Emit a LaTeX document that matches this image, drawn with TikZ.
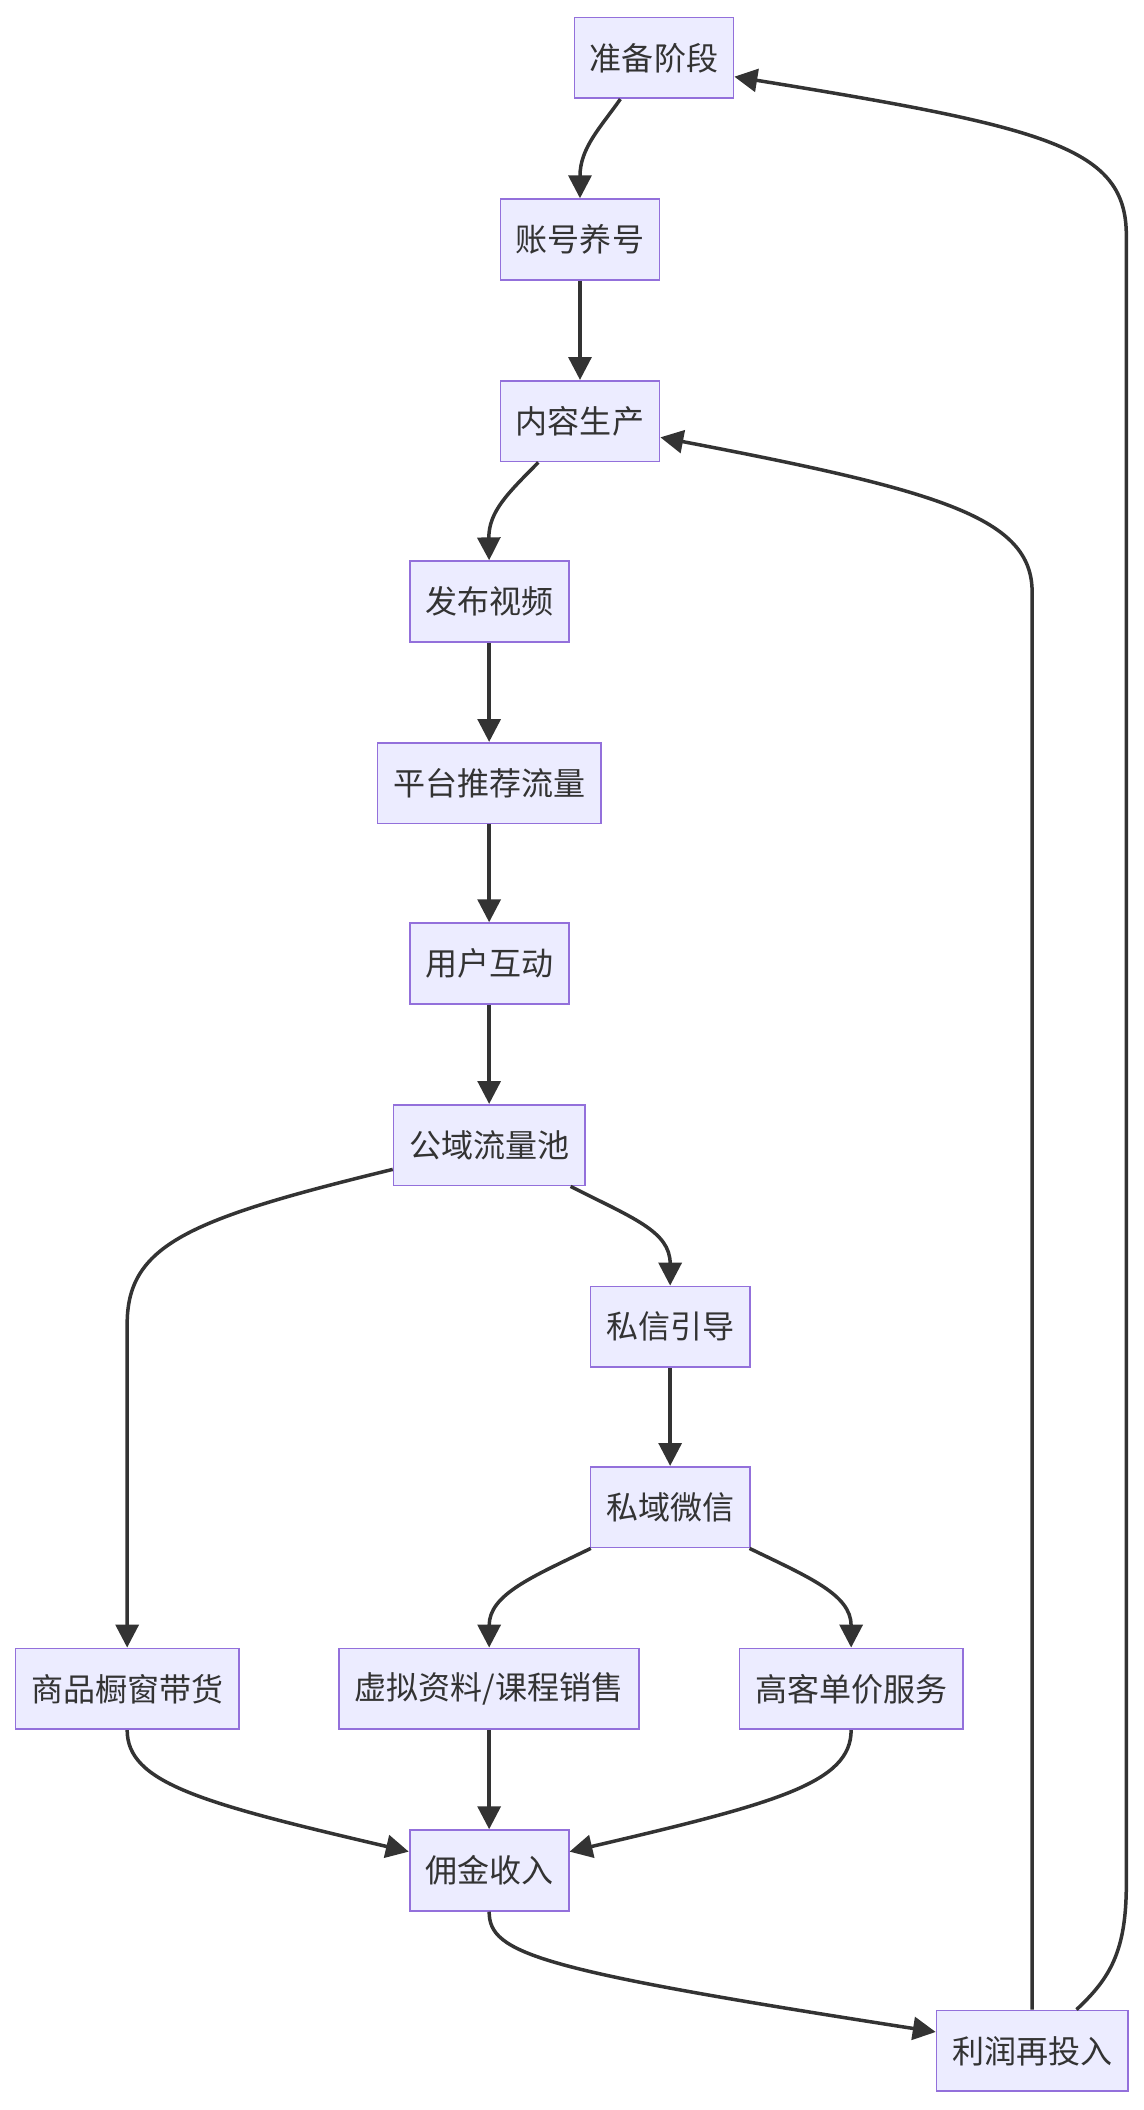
\documentclass[tikz,border=0pt]{standalone}
\usepackage{fontspec}
\setmainfont{Noto Sans CJK SC}
\usepackage{tikz}
\usetikzlibrary{arrows.meta,positioning,calc}
\usepackage{xcolor}
\definecolor{boxfill}{HTML}{ECECFF}
\definecolor{boxline}{HTML}{9370DB}
\definecolor{edgegray}{HTML}{333333}

\begin{document}
\begin{tikzpicture}[
    x=1pt, y=-1pt,
    step box/.style={draw=boxline,fill=boxfill,line width=1.3pt,minimum height=60pt,
        inner xsep=11.5pt,text=edgegray,font=\fontsize{23.8pt}{28pt}\selectfont},
    flow/.style={line width=2.6pt,draw=edgegray},
    >={Triangle[length=17pt,width=17pt]}
]
\useasboundingbox (0,0) rectangle (850,1568);

\node[step box] (prep) at (486,43) {准备阶段};
\node[step box] (acct) at (431,178) {账号养号};
\node[step box] (content) at (431,313) {内容生产};
\node[step box] (publish) at (363.5,447) {发布视频};
\node[step box] (recommend) at (363.5,582) {平台推荐流量};
\node[step box] (interact) at (363.5,716) {用户互动};
\node[step box] (pubpool) at (363.5,851) {公域流量池};
\node[step box] (dmguide) at (498,986) {私信引导};
\node[step box] (wechat) at (498,1120) {私域微信};
\node[step box] (showcase) at (94.5,1255) {商品橱窗带货};
\node[step box] (course) at (363.5,1255) {虚拟资料/课程销售};
\node[step box] (service) at (632.5,1255) {高客单价服务};
\node[step box] (commission) at (363.5,1390) {佣金收入};
\node[step box] (reinvest) at (767,1524) {利润再投入};

% main chain
\draw[flow,->] ([xshift=-25pt]prep.south) .. controls (446,95) and (431,110) .. (acct.north);
\draw[flow,->] (acct) -- (content);
\draw[flow,->] ([xshift=-31pt]content.south) .. controls (378,366) and (363,380) .. (publish.north);
\draw[flow,->] (publish) -- (recommend);
\draw[flow,->] (recommend) -- (interact);
\draw[flow,->] (interact) -- (pubpool);

% split at the public pool
\draw[flow,->] ([xshift=60.5pt]pubpool.south) .. controls (470,905) and (498,915) .. (dmguide.north);
\draw[flow,->] ([yshift=-18pt]pubpool.west) .. controls (140,906) and (94,925) .. (94.5,985) -- (showcase.north);
\draw[flow,->] (dmguide) -- (wechat);
\draw[flow,->] ([xshift=-59pt]wechat.south) .. controls (395,1172) and (363.5,1185) .. (course.north);
\draw[flow,->] ([xshift=59pt]wechat.south) .. controls (601,1172) and (632.5,1185) .. (service.north);

% income
\draw[flow,->] (showcase.south) .. controls (94.5,1325) and (150,1340) .. ([yshift=14pt]commission.west);
\draw[flow,->] (course) -- (commission);
\draw[flow,->] (service.south) .. controls (632.5,1325) and (577,1340) .. ([yshift=14pt]commission.east);
\draw[flow,->] (commission.south) .. controls (363.5,1452) and (400,1464) .. ([yshift=14pt]reinvest.west);

% loops back
\draw[flow,->] (reinvest.north) -- (767,440) .. controls (767,385) and (700,365) .. ([yshift=-12pt]content.east);
\draw[flow,->] ([xshift=33pt]reinvest.north) .. controls (825,1470) and (837,1450) .. (837,1400)
    -- (837,175) .. controls (837,110) and (780,95) .. ([yshift=-14pt]prep.east);
\end{tikzpicture}
\end{document}
